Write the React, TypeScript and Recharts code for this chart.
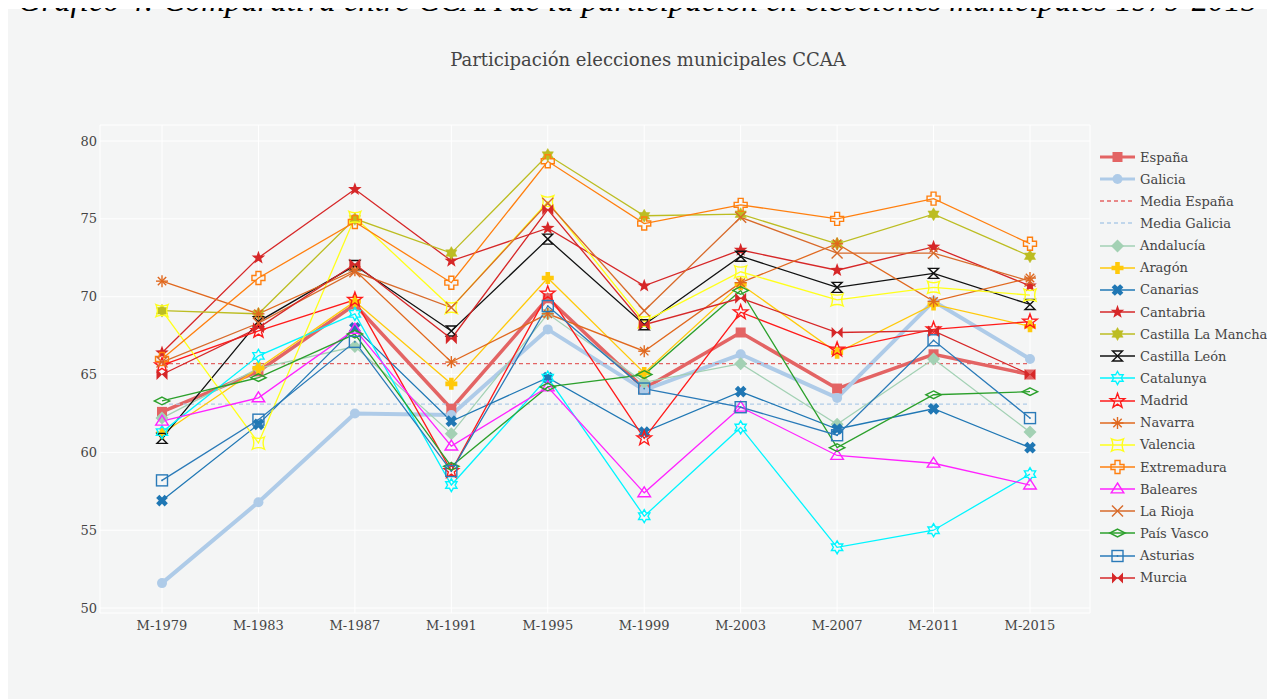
import React from "react";
import { LineChart, Line, XAxis, YAxis, CartesianGrid } from "recharts";

const CATEGORIES = ["M-1979", "M-1983", "M-1987", "M-1991", "M-1995", "M-1999", "M-2003", "M-2007", "M-2011", "M-2015"];
const Y_TICKS = [50, 55, 60, 65, 70, 75, 80];

const espana = [62.6, 65.2, 69.5, 62.8, 69.9, 64.1, 67.7, 64.1, 66.3, 65.0];
const galicia = [51.6, 56.8, 62.5, 62.4, 67.9, 64.0, 66.3, 63.5, 69.7, 66.0];
const mediaEspana = [65.7, 65.7, 65.7, 65.7, 65.7, 65.7, 65.7, 65.7, 65.7, 65.7];
const mediaGalicia = [63.1, 63.1, 63.1, 63.1, 63.1, 63.1, 63.1, 63.1, 63.1, 63.1];
const andalucia = [62.2, 65.4, 66.8, 61.2, 68.9, 64.5, 65.7, 61.8, 66.0, 61.3];
const aragon = [61.2, 65.4, 69.7, 64.4, 71.2, 65.1, 70.8, 66.4, 69.5, 68.1];
const canarias = [56.9, 61.8, 68.0, 62.0, 64.8, 61.3, 63.9, 61.5, 62.8, 60.3];
const cantabria = [66.4, 72.5, 76.9, 72.3, 74.4, 70.7, 73.0, 71.7, 73.2, 70.7];
const castillaLaMancha = [69.1, 68.9, 75.0, 72.8, 79.1, 75.2, 75.3, 73.4, 75.3, 72.6];
const castillaLeon = [60.9, 68.4, 72.0, 67.8, 73.7, 68.2, 72.6, 70.6, 71.5, 69.5];
const catalunya = [61.3, 66.2, 68.9, 57.9, 64.8, 55.9, 61.6, 53.9, 55.0, 58.6];
const madrid = [65.6, 67.8, 69.8, 58.8, 70.2, 60.9, 69.0, 66.6, 67.9, 68.4];
const navarra = [71.0, 68.9, 71.7, 65.8, 68.9, 66.5, 70.9, 73.4, 69.7, 71.2];
const valencia = [69.1, 60.6, 75.1, 69.3, 76.1, 68.4, 71.6, 69.8, 70.6, 70.1];
const extremadura = [66.0, 71.2, 74.8, 70.9, 78.7, 74.7, 75.9, 75.0, 76.3, 73.4];
const baleares = [62.0, 63.5, 67.9, 60.4, 64.2, 57.4, 62.9, 59.8, 59.3, 57.9];
const laRioja = [65.8, 68.3, 71.6, 69.3, 76.0, 69.1, 75.1, 72.8, 72.8, 71.0];
const paisVasco = [63.3, 64.8, 67.6, 59.1, 64.2, 65.0, 70.4, 60.3, 63.7, 63.9];
const asturias = [58.2, 62.1, 67.1, 58.8, 69.4, 64.1, 62.9, 61.1, 67.2, 62.2];
const murcia = [65.0, 68.0, 72.1, 67.3, 75.6, 68.2, 69.9, 67.7, 67.8, 65.0];

type Sym =
  | "square" | "circle" | "none" | "diamond" | "cross" | "x" | "star" | "hexagram"
  | "hourglass" | "hexagramOpen" | "starOpen" | "asterisk" | "starSquare" | "crossOpen"
  | "triangle" | "xThin" | "diamondWide" | "squareDot" | "bowtie";

interface Spec {
  key: string;
  name: string;
  values: number[];
  color: string;
  width: number;
  symbol: Sym;
  r: number;
  dash?: string;
}

const SERIES: Spec[] = [
  { key: "espana", name: "España", values: espana, color: "#e36464", width: 3.5, symbol: "square", r: 5 },
  { key: "galicia", name: "Galicia", values: galicia, color: "#aecbe8", width: 4, symbol: "circle", r: 5 },
  { key: "mediaEspana", name: "Media España", values: mediaEspana, color: "#e36464", width: 1.3, symbol: "none", r: 0, dash: "4 3" },
  { key: "mediaGalicia", name: "Media Galicia", values: mediaGalicia, color: "#aecbe8", width: 1.3, symbol: "none", r: 0, dash: "4 3" },
  { key: "andalucia", name: "Andalucía", values: andalucia, color: "#a3d1b4", width: 1.3, symbol: "diamond", r: 5 },
  { key: "aragon", name: "Aragón", values: aragon, color: "#ffc90a", width: 1.3, symbol: "cross", r: 6 },
  { key: "canarias", name: "Canarias", values: canarias, color: "#1f77b4", width: 1.3, symbol: "x", r: 6 },
  { key: "cantabria", name: "Cantabria", values: cantabria, color: "#d62728", width: 1.3, symbol: "star", r: 6.5 },
  { key: "clm", name: "Castilla La Mancha", values: castillaLaMancha, color: "#bcbd22", width: 1.3, symbol: "hexagram", r: 6.5 },
  { key: "cleon", name: "Castilla León", values: castillaLeon, color: "#111111", width: 1.3, symbol: "hourglass", r: 5 },
  { key: "catalunya", name: "Catalunya", values: catalunya, color: "#00f5ff", width: 1.3, symbol: "hexagramOpen", r: 6.5 },
  { key: "madrid", name: "Madrid", values: madrid, color: "#ff1a1a", width: 1.3, symbol: "starOpen", r: 7 },
  { key: "navarra", name: "Navarra", values: navarra, color: "#e0681e", width: 1.3, symbol: "asterisk", r: 6 },
  { key: "valencia", name: "Valencia", values: valencia, color: "#ffff1a", width: 1.3, symbol: "starSquare", r: 6 },
  { key: "extremadura", name: "Extremadura", values: extremadura, color: "#ff7f0e", width: 1.3, symbol: "crossOpen", r: 6.5 },
  { key: "baleares", name: "Baleares", values: baleares, color: "#ff22ff", width: 1.3, symbol: "triangle", r: 6 },
  { key: "larioja", name: "La Rioja", values: laRioja, color: "#d86a2a", width: 1.3, symbol: "xThin", r: 5.5 },
  { key: "paisvasco", name: "País Vasco", values: paisVasco, color: "#2ca02c", width: 1.3, symbol: "diamondWide", r: 7 },
  { key: "asturias", name: "Asturias", values: asturias, color: "#2a7ab8", width: 1.3, symbol: "squareDot", r: 5.5 },
  { key: "murcia", name: "Murcia", values: murcia, color: "#d62728", width: 1.3, symbol: "bowtie", r: 5.5 },
];

const data = CATEGORIES.map((cat, i) => {
  const row: Record<string, string | number> = { cat };
  SERIES.forEach((s) => (row[s.key] = s.values[i]));
  return row;
});

function starPoints(n: number, R: number, ri: number) {
  const pts: string[] = [];
  for (let i = 0; i < n * 2; i++) {
    const rad = i % 2 === 0 ? R : ri;
    const a = (Math.PI * i) / n - Math.PI / 2;
    pts.push(`${(rad * Math.cos(a)).toFixed(2)},${(rad * Math.sin(a)).toFixed(2)}`);
  }
  return pts.join(" ");
}

function crossPoints(r: number, a: number) {
  return [
    [-a, -r], [a, -r], [a, -a], [r, -a], [r, a], [a, a],
    [a, r], [-a, r], [-a, a], [-r, a], [-r, -a], [-a, -a],
  ].map((p) => p.join(",")).join(" ");
}

function hexagram(r: number) {
  const t1 = [0, 1, 2].map((k) => {
    const a = -Math.PI / 2 + (k * 2 * Math.PI) / 3;
    return `${(r * Math.cos(a)).toFixed(2)},${(r * Math.sin(a)).toFixed(2)}`;
  });
  const t2 = [0, 1, 2].map((k) => {
    const a = Math.PI / 2 + (k * 2 * Math.PI) / 3;
    return `${(r * Math.cos(a)).toFixed(2)},${(r * Math.sin(a)).toFixed(2)}`;
  });
  return `M${t1.join(" L")} Z M${t2.join(" L")} Z`;
}

function Marker({ x, y, symbol, color, r }: { x: number; y: number; symbol: Sym; color: string; r: number }) {
  const open = { fill: "none", stroke: color, strokeWidth: 1.4 };
  let shape: React.ReactNode = null;
  switch (symbol) {
    case "square":
      shape = <rect x={-r} y={-r} width={2 * r} height={2 * r} fill={color} />;
      break;
    case "circle":
      shape = <circle r={r} fill={color} />;
      break;
    case "diamond":
      shape = <polygon points={`0,${-r * 1.3} ${r * 1.3},0 0,${r * 1.3} ${-r * 1.3},0`} fill={color} />;
      break;
    case "cross":
      shape = <polygon points={crossPoints(r, r * 0.38)} fill={color} />;
      break;
    case "x":
      shape = <polygon points={crossPoints(r, r * 0.38)} fill={color} transform="rotate(45)" />;
      break;
    case "star":
      shape = <polygon points={starPoints(5, r * 1.1, r * 0.45)} fill={color} />;
      break;
    case "hexagram":
      shape = <path d={hexagram(r)} fill={color} stroke={color} strokeWidth={0.5} />;
      break;
    case "hourglass":
      shape = <path d={`M${-r},${-r} H${r} L${-r},${r} H${r} Z`} {...open} />;
      break;
    case "hexagramOpen":
      shape = <polygon points={starPoints(6, r, r * 0.58)} {...open} />;
      break;
    case "starOpen":
      shape = <polygon points={starPoints(5, r * 1.1, r * 0.45)} {...open} />;
      break;
    case "asterisk":
      shape = (
        <g stroke={color} strokeWidth={1.4}>
          <line x1={-r} y1={0} x2={r} y2={0} />
          <line x1={0} y1={-r} x2={0} y2={r} />
          <line x1={-r * 0.7} y1={-r * 0.7} x2={r * 0.7} y2={r * 0.7} />
          <line x1={-r * 0.7} y1={r * 0.7} x2={r * 0.7} y2={-r * 0.7} />
        </g>
      );
      break;
    case "starSquare":
      shape = (
        <path
          d={`M${-r},${-r} Q0,${-r * 0.55} ${r},${-r} Q${r * 0.55},0 ${r},${r} Q0,${r * 0.55} ${-r},${r} Q${-r * 0.55},0 ${-r},${-r} Z`}
          {...open}
        />
      );
      break;
    case "crossOpen":
      shape = <polygon points={crossPoints(r, r * 0.38)} {...open} />;
      break;
    case "triangle":
      shape = <polygon points={`0,${-r} ${r * 1.05},${r * 0.65} ${-r * 1.05},${r * 0.65}`} {...open} />;
      break;
    case "xThin":
      shape = (
        <g stroke={color} strokeWidth={1.4}>
          <line x1={-r} y1={-r} x2={r} y2={r} />
          <line x1={-r} y1={r} x2={r} y2={-r} />
        </g>
      );
      break;
    case "diamondWide":
      shape = <polygon points={`0,${-r * 0.55} ${r * 1.1},0 0,${r * 0.55} ${-r * 1.1},0`} {...open} />;
      break;
    case "squareDot":
      shape = (
        <g>
          <rect x={-r} y={-r} width={2 * r} height={2 * r} {...open} />
          <circle r={0.9} fill={color} />
        </g>
      );
      break;
    case "bowtie":
      shape = <path d={`M${-r},${-r} V${r} L${r},${-r} V${r} Z`} fill={color} />;
      break;
    default:
      shape = null;
  }
  return <g transform={`translate(${x},${y})`}>{shape}</g>;
}

const FONT = "'DejaVu Serif', serif";
const TEXT = "#444444";

function Legend() {
  return (
    <div style={{ position: "absolute", left: 1092, top: 137, fontFamily: FONT, fontSize: 13, color: TEXT }}>
      {SERIES.map((s) => (
        <div key={s.key} style={{ height: 22.15, display: "flex", alignItems: "center" }}>
          <svg width={40} height={20} style={{ display: "block" }}>
            <line
              x1={0}
              y1={10}
              x2={35}
              y2={10}
              stroke={s.color}
              strokeWidth={s.width > 2 ? 3 : s.width}
              strokeDasharray={s.dash}
            />
            {s.symbol !== "none" && <Marker x={17.5} y={10} symbol={s.symbol} color={s.color} r={s.r} />}
          </svg>
          <span style={{ whiteSpace: "nowrap" }}>{s.name}</span>
        </div>
      ))}
    </div>
  );
}

export default function App() {
  return (
    <div style={{ position: "relative", width: 1259, height: 690, marginTop: 1, background: "#f4f5f5" }}>
      <div
        style={{
          position: "absolute",
          left: -8,
          top: -25,
          width: 1275,
          textAlign: "center",
          fontFamily: "'Liberation Serif', serif",
          fontStyle: "italic",
          fontSize: 32.7,
          lineHeight: "32px",
          color: "#000",
          whiteSpace: "nowrap",
        }}
      >
        Gráfico 4: Comparativa entre CCAA de la participación en elecciones municipales 1979-2015
      </div>
      <div
        style={{
          position: "absolute",
          left: 0,
          top: 40,
          width: 1280,
          textAlign: "center",
          fontFamily: FONT,
          fontSize: 18,
          color: TEXT,
        }}
      >
        Participación elecciones municipales CCAA
      </div>
      <LineChart
        width={1259}
        height={690}
        data={data}
        margin={{ top: 116, right: 177, bottom: 56, left: 32 }}
      >
        <CartesianGrid stroke="#ffffff" strokeWidth={1} />
        <XAxis
          dataKey="cat"
          scale="point"
          padding={{ left: 62, right: 60 }}
          axisLine={false}
          tickLine={false}
          tickSize={0}
          tickMargin={8}
          height={30}
          interval={0}
          tick={{ fill: TEXT, fontSize: 13, fontFamily: FONT }}
        />
        <YAxis
          type="number"
          domain={[49.68, 81.03]}
          ticks={Y_TICKS}
          allowDataOverflow
          axisLine={false}
          tickLine={false}
          tickSize={0}
          tickMargin={3}
          width={60}
          tick={{ fill: TEXT, fontSize: 13, fontFamily: FONT }}
        />
        {SERIES.map((s) => (
          <Line
            key={s.key}
            dataKey={s.key}
            name={s.name}
            type="linear"
            stroke={s.color}
            strokeWidth={s.width}
            strokeDasharray={s.dash}
            isAnimationActive={false}
            activeDot={false}
            dot={
              s.symbol === "none"
                ? false
                : (p: any) => (
                    <Marker key={`${s.key}-${p.index}`} x={p.cx} y={p.cy} symbol={s.symbol} color={s.color} r={s.r} />
                  )
            }
          />
        ))}
      </LineChart>
      <Legend />
    </div>
  );
}
